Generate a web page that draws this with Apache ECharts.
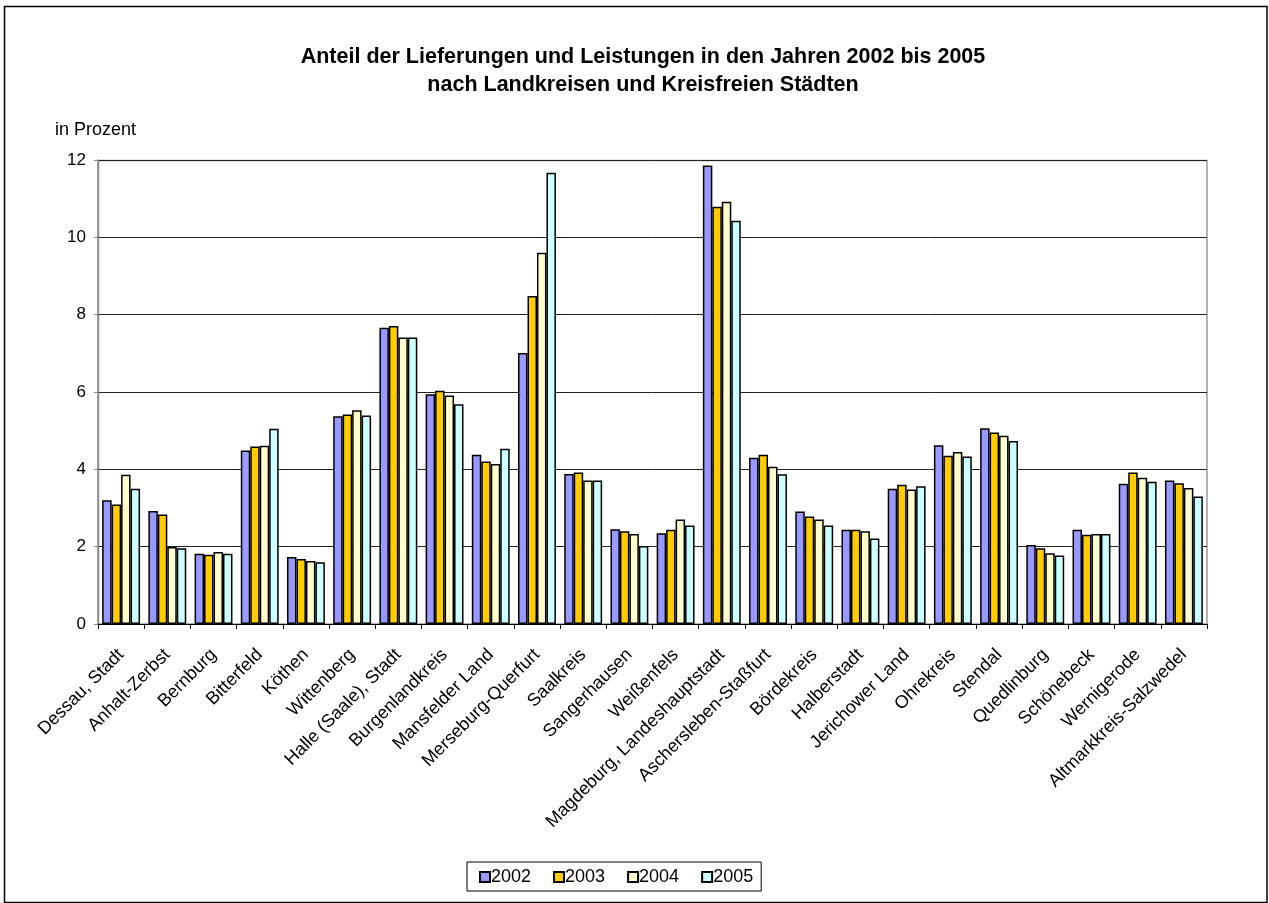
<!DOCTYPE html>
<html>
<head>
<meta charset="utf-8">
<script src="https://cdn.jsdelivr.net/npm/echarts@6/dist/echarts.min.js"></script>
<style>
  html, body { margin: 0; padding: 0; background: #fff; }
  #main { width: 1269px; height: 903px; }
</style>
</head>
<body>
<div id="main"></div>
<script>
// Landkreise und kreisfreie Staedte
var categories = ['Dessau, Stadt', 'Anhalt-Zerbst', 'Bernburg', 'Bitterfeld', 'Köthen', 'Wittenberg',
    'Halle (Saale), Stadt', 'Burgenlandkreis', 'Mansfelder Land', 'Merseburg-Querfurt', 'Saalkreis',
    'Sangerhausen', 'Weißenfels', 'Magdeburg, Landeshauptstadt', 'Aschersleben-Staßfurt', 'Bördekreis',
    'Halberstadt', 'Jerichower Land', 'Ohrekreis', 'Stendal', 'Quedlinburg', 'Schönebeck', 'Wernigerode',
    'Altmarkkreis-Salzwedel'];

var v2002 = [3.20, 2.92, 1.82, 4.49, 1.73, 5.37, 7.66, 5.94, 4.38, 7.01, 3.88, 2.45, 2.35, 11.86, 4.30, 2.91,
    2.44, 3.50, 4.62, 5.06, 2.04, 2.44, 3.63, 3.71];
var v2003 = [3.09, 2.83, 1.79, 4.59, 1.68, 5.42, 7.71, 6.03, 4.20, 8.48, 3.92, 2.40, 2.44, 10.79, 4.38, 2.78,
    2.44, 3.60, 4.35, 4.95, 1.96, 2.31, 3.92, 3.64];
var v2004 = [3.86, 1.99, 1.86, 4.61, 1.63, 5.53, 7.41, 5.91, 4.14, 9.60, 3.71, 2.33, 2.70, 10.92, 4.07, 2.70,
    2.40, 3.48, 4.45, 4.87, 1.83, 2.33, 3.78, 3.52];
var v2005 = [3.50, 1.96, 1.82, 5.05, 1.60, 5.39, 7.41, 5.68, 4.53, 11.67, 3.71, 2.02, 2.55, 10.43, 3.87, 2.55,
    2.21, 3.56, 4.33, 4.73, 1.77, 2.33, 3.68, 3.30];

var years = ['2002', '2003', '2004', '2005'];
var colors = ['#9999FF', '#FFCC00', '#FFFFCC', '#CCFFFF'];
var font = "'Liberation Sans', Arial, sans-serif";

var myChart = echarts.init(document.getElementById('main'));

function bar(name, data, color) {
    return {
        name: name,
        type: 'bar',
        data: data,
        barGap: '0%',
        barCategoryGap: '18%',
        itemStyle: { color: color, borderColor: '#000', borderWidth: 1.5 },
        emphasis: { disabled: true }
    };
}

var option = {
    animation: false,
    textStyle: { fontFamily: font },
    title: {
        text: 'Anteil der Lieferungen und Leistungen in den Jahren 2002 bis 2005\nnach Landkreisen und Kreisfreien Städten',
        left: 638,
        textAlign: 'center',
        top: 38,
        textStyle: { fontFamily: font, fontSize: 21.5, fontWeight: 'bold', color: '#000', lineHeight: 28 }
    },
    graphic: [
        {
            type: 'rect',
            shape: { x: 4.5, y: 6.5, width: 1262.5, height: 896 },
            style: { fill: 'none', stroke: '#000', lineWidth: 1.5 },
            silent: true
        },
        {
            type: 'rect',
            shape: { x: 98.5, y: 160.5, width: 1108.5, height: 463.5 },
            style: { fill: 'none', stroke: '#999', lineWidth: 1.5 },
            silent: true,
            z: 0
        },
        {
            type: 'text',
            left: 55,
            top: 121,
            style: { text: 'in Prozent', font: '18px ' + font, fill: '#000' }
        }
    ],
    legend: {
        data: years,
        left: 467,
        top: 862,
        padding: [6, 8, 5, 12],
        itemWidth: 10,
        itemHeight: 10,
        itemGap: 22,
        icon: 'rect',
        borderColor: '#000',
        borderWidth: 1,
        textStyle: { fontFamily: font, fontSize: 18, color: '#000', padding: [0, 0, 0, -4] },
        selectedMode: false
    },
    grid: {
        left: 98,
        right: 62,
        top: 160,
        bottom: 279,
        containLabel: false
    },
    xAxis: {
        type: 'category',
        data: categories,
        axisLine: { lineStyle: { color: '#000', width: 1 } },
        axisTick: { show: true, length: 5, lineStyle: { color: '#000' } },
        axisLabel: {
            rotate: 45,
            interval: 0,
            margin: 28,
            fontFamily: font,
            fontSize: 18,
            color: '#000'
        }
    },
    yAxis: {
        type: 'value',
        min: 0,
        max: 12,
        interval: 2,
        axisLine: { show: true, lineStyle: { color: '#888', width: 1.5 } },
        axisTick: { show: true, length: 4, lineStyle: { color: '#888' } },
        axisLabel: { fontFamily: font, fontSize: 17, color: '#000', margin: 12 },
        splitLine: { lineStyle: { color: '#222', width: 1 } }
    },
    series: [
        bar(years[0], v2002, colors[0]),
        bar(years[1], v2003, colors[1]),
        bar(years[2], v2004, colors[2]),
        bar(years[3], v2005, colors[3])
    ]
};

myChart.setOption(option);
</script>
</body>
</html>
